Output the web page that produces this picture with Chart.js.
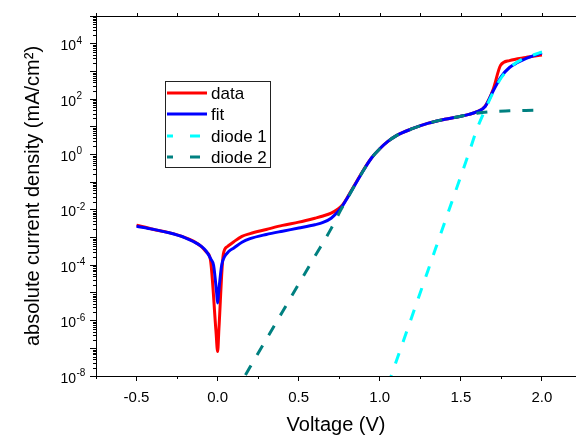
<!DOCTYPE html>
<html>
<head>
<meta charset="utf-8">
<script src="https://cdn.jsdelivr.net/npm/chart.js@4.4.1/dist/chart.umd.min.js"></script>
<style>
  html, body { margin: 0; padding: 0; background: #fff; }
</style>
</head>
<body>
<canvas id="chart" width="576" height="435"></canvas>
<script>
// measured J-V curve (red) and total fit (blue), |J| in mA/cm2
const dataVoltage = [-0.5, -0.4, -0.3, -0.2, -0.15, -0.1, -0.07, -0.045, -0.01, 0, 0.008, 0.035, 0.06, 0.1, 0.15, 0.2, 0.3, 0.4, 0.5, 0.6, 0.65, 0.7, 0.74, 0.77, 0.8, 0.85, 0.9, 0.95, 1.0, 1.05, 1.1, 1.2, 1.3, 1.4, 1.5, 1.55, 1.6, 1.65, 1.7, 1.745, 1.8, 1.9, 2.0];
const dataCurrent = [2.8e-3, 2.0e-3, 1.5e-3, 1.0e-3, 7.4e-4, 4.7e-4, 3.0e-4, 1.66e-4, 4.0e-7, 7.6e-8, 5.0e-7, 2.5e-4, 4.7e-4, 7.1e-4, 1.1e-3, 1.38e-3, 1.95e-3, 2.75e-3, 3.6e-3, 5.0e-3, 6.0e-3, 7.6e-3, 1.05e-2, 1.5e-2, 2.8e-2, 8.9e-2, 0.28, 0.76, 1.6, 2.95, 4.7, 8.5, 13.5, 18.6, 24, 28, 35, 56, 230, 1660, 2450, 3160, 3900];

const fitVoltage = [-0.5, -0.4, -0.3, -0.2, -0.15, -0.1, -0.07, -0.04, -0.025, -0.006, 0, 0.006, 0.025, 0.04, 0.07, 0.1, 0.15, 0.2, 0.3, 0.4, 0.5, 0.6, 0.65, 0.7, 0.74, 0.77, 0.8, 0.85, 0.9, 0.95, 1.0, 1.05, 1.1, 1.2, 1.3, 1.4, 1.5, 1.55, 1.6, 1.65, 1.7, 1.75, 1.8, 1.85, 1.9, 1.95, 2.0];
const fitCurrent = [2.57e-3, 2.0e-3, 1.48e-3, 9.8e-4, 7.2e-4, 4.8e-4, 3.2e-4, 1.6e-4, 1.0e-4, 1.0e-5, 4.3e-6, 1.0e-5, 1.0e-4, 1.9e-4, 3.2e-4, 4.2e-4, 6.8e-4, 9.1e-4, 1.29e-3, 1.7e-3, 2.2e-3, 2.9e-3, 3.5e-3, 5.0e-3, 8.3e-3, 1.38e-2, 2.7e-2, 8.5e-2, 0.27, 0.76, 1.6, 2.95, 4.7, 8.5, 13.5, 18.6, 24, 28, 35, 54, 200, 660, 1380, 2090, 2880, 3700, 4700];

// the two diode components of the fit
const diode1Voltage = [1.05, 1.1, 1.2, 1.3, 1.4, 1.5, 1.55, 1.6, 1.65, 1.7, 1.75, 1.8, 1.85, 1.9, 1.95, 2.0];
const diode1Current = [4.6e-9, 3.2e-8, 1.5e-6, 7.2e-5, 3.5e-3, 0.166, 1.15, 8.5, 42, 182, 600, 1320, 2240, 3160, 3980, 5000];

const diode2Voltage = [0.1, 0.2, 0.3, 0.4, 0.5, 0.6, 0.7, 0.76, 0.8, 0.85, 0.9, 0.95, 1.0, 1.05, 1.1, 1.2, 1.3, 1.4, 1.5, 1.55, 1.6, 1.7, 1.8, 1.9, 2.0];
const diode2Current = [2.1e-9, 2.1e-8, 2.1e-7, 2.1e-6, 2.1e-5, 2.1e-4, 2.1e-3, 1.0e-2, 2.6e-2, 8.5e-2, 0.27, 0.76, 1.6, 2.95, 4.7, 8.5, 13.5, 18.6, 24, 27.5, 31, 35.5, 37.5, 39, 40];

const xTicks = [-0.5, 0.0, 0.5, 1.0, 1.5, 2.0];
const xMinorTicks = [-0.75, -0.25, 0.25, 0.75, 1.25, 1.75];
const yExponents = [-8, -7, -6, -5, -4, -3, -2, -1, 0, 1, 2, 3, 4, 5];
const yLabelExponents = [-8, -6, -4, -2, 0, 2, 4];

const family = "'Liberation Sans', Arial, sans-serif";

function points(xs, ys) {
    return xs.map((x, i) => ({ x: x, y: ys[i] }));
}

// origin-style extras: top frame, minor ticks, 10^n labels
const axisExtras = {
    id: 'axisExtras',
    afterDraw(chart) {
        const ctx = chart.ctx;
        const area = chart.chartArea;
        const xs = chart.scales.x;
        const ys = chart.scales.y;
        ctx.save();
        ctx.strokeStyle = '#000';
        ctx.lineWidth = 1;
        ctx.beginPath();
        ctx.moveTo(area.left, Math.round(area.top) + 0.5);
        ctx.lineTo(area.right, Math.round(area.top) + 0.5);
        // top ticks
        xTicks.concat(xMinorTicks).forEach(v => {
            const px = Math.round(xs.getPixelForValue(v)) + 0.5;
            ctx.moveTo(px, area.top);
            ctx.lineTo(px, area.top - 3);
        });
        // bottom minor ticks
        xMinorTicks.forEach(v => {
            const px = Math.round(xs.getPixelForValue(v)) + 0.5;
            ctx.moveTo(px, area.bottom);
            ctx.lineTo(px, area.bottom + 3);
        });
        // y minor ticks
        for (let e = -8; e < 5; e++) {
            for (let k = 2; k <= 9; k++) {
                const py = Math.round(ys.getPixelForValue(k * Math.pow(10, e))) + 0.5;
                ctx.moveTo(area.left - 3, py);
                ctx.lineTo(area.left, py);
            }
        }
        ctx.stroke();

        ctx.fillStyle = '#000';
        yLabelExponents.forEach(e => {
            const py = ys.getPixelForValue(Math.pow(10, e));
            ctx.font = '14px ' + family;
            ctx.textAlign = 'right';
            ctx.textBaseline = 'alphabetic';
            ctx.fillText('10', 76, py + 6.5);
            ctx.font = '10px ' + family;
            ctx.textAlign = 'left';
            ctx.fillText(String(e), 76.5, py);
        });
        ctx.restore();
    }
};

const legendBox = {
    id: 'legendBox',
    afterDraw(chart) {
        const ctx = chart.ctx;
        const rows = [93, 114, 136, 157];
        ctx.save();
        ctx.fillStyle = '#fff';
        ctx.fillRect(165, 81, 105, 86);
        ctx.strokeStyle = '#222';
        ctx.lineWidth = 1;
        ctx.strokeRect(165.5, 81.5, 105, 86);
        chart.data.datasets.forEach((ds, i) => {
            const y = rows[i];
            ctx.strokeStyle = ds.borderColor;
            ctx.lineWidth = 3;
            ctx.setLineDash(ds.borderDash ? [6, 17, 10, 40] : []);
            ctx.beginPath();
            ctx.moveTo(167, y);
            ctx.lineTo(207, y);
            ctx.stroke();
            ctx.setLineDash([]);
            ctx.fillStyle = '#000';
            ctx.font = '17px ' + family;
            ctx.textAlign = 'left';
            ctx.textBaseline = 'middle';
            ctx.fillText(ds.label, 211, y + 1);
        });
        ctx.restore();
    }
};

new Chart(document.getElementById('chart'), {
    type: 'line',
    data: {
        datasets: [
            { label: 'data', data: points(dataVoltage, dataCurrent), borderColor: '#ff0000', borderWidth: 3, order: 4 },
            { label: 'fit', data: points(fitVoltage, fitCurrent), borderColor: '#0000ff', borderWidth: 3, order: 3 },
            { label: 'diode 1', data: points(diode1Voltage, diode1Current), borderColor: '#00ffff', borderWidth: 3, borderDash: [11, 12], order: 2 },
            { label: 'diode 2', data: points(diode2Voltage, diode2Current), borderColor: '#008080', borderWidth: 3, borderDash: [11, 12], order: 1 }
        ]
    },
    options: {
        responsive: false,
        animation: false,
        devicePixelRatio: 1,
        layout: { padding: { top: 16, right: 0, bottom: 0, left: 0 } },
        elements: {
            point: { radius: 0 },
            line: { cubicInterpolationMode: 'monotone', fill: false }
        },
        plugins: {
            legend: { display: false },
            tooltip: { enabled: false }
        },
        scales: {
            x: {
                type: 'linear',
                min: -0.75,
                max: 2.21,
                afterBuildTicks: s => { s.ticks = xTicks.map(v => ({ value: v })); },
                afterFit: s => { s.height = 59; },
                ticks: {
                    callback: v => v.toFixed(1),
                    font: { family: family, size: 15 },
                    color: '#000',
                    padding: 8,
                    maxRotation: 0,
                    autoSkip: false
                },
                grid: { display: true, drawOnChartArea: false, drawTicks: true, tickLength: 5, tickColor: '#000' },
                border: { display: true, color: '#000', width: 1 },
                title: {
                    display: true,
                    text: 'Voltage (V)',
                    font: { family: family, size: 20 },
                    color: '#000',
                    padding: { top: 0, bottom: -2 }
                }
            },
            y: {
                type: 'logarithmic',
                min: 1e-8,
                max: 1e5,
                afterBuildTicks: s => { s.ticks = yExponents.map(e => ({ value: Math.pow(10, e) })); },
                afterFit: s => { s.width = 96; },
                ticks: { callback: () => '', autoSkip: false },
                grid: { display: true, drawOnChartArea: false, drawTicks: true, tickLength: 6, tickColor: '#000' },
                border: { display: true, color: '#000', width: 1 },
                title: {
                    display: true,
                    text: 'absolute current density (mA/cm²)',
                    font: { family: family, size: 20 },
                    color: '#000',
                    padding: { top: 21, bottom: 0 }
                }
            }
        }
    },
    plugins: [axisExtras, legendBox]
});
</script>
</body>
</html>
